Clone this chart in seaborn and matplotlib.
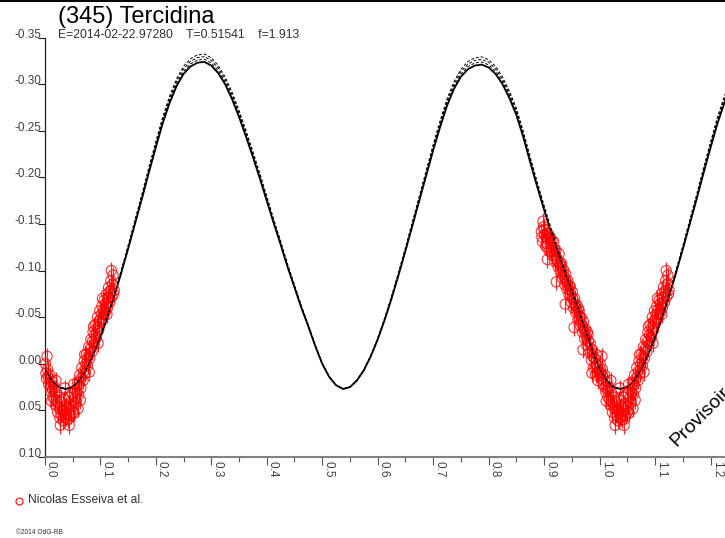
import numpy as np
import pandas as pd
import matplotlib
matplotlib.use("Agg")
import matplotlib.pyplot as plt
import seaborn as sns
from matplotlib.lines import Line2D

# ---------------- data ----------------
title = "(345) Tercidina"
subtitle = "E=2014-02-22.97280    T=0.51541    f=1.913"
observer = "Nicolas Esseiva et al."
credit = "\u00a92014 OdG-RB"
stamp = "Provisoire"

model_phase = [0.0000, 0.0125, 0.0250, 0.0375, 0.0500, 0.0625, 0.0750, 0.0875,
               0.1000, 0.1125, 0.1250, 0.1375, 0.1500, 0.1625, 0.1750, 0.1875,
               0.2000, 0.2125, 0.2250, 0.2375, 0.2500, 0.2625, 0.2750, 0.2875,
               0.3000, 0.3125, 0.3250, 0.3375, 0.3500, 0.3625, 0.3750, 0.3875,
               0.4000, 0.4125, 0.4250, 0.4375, 0.4500, 0.4625, 0.4750, 0.4875,
               0.5000, 0.5125, 0.5250, 0.5375, 0.5500, 0.5625, 0.5750, 0.5875,
               0.6000, 0.6125, 0.6250, 0.6375, 0.6500, 0.6625, 0.6750, 0.6875,
               0.7000, 0.7125, 0.7250, 0.7375, 0.7500, 0.7625, 0.7750, 0.7875,
               0.8000, 0.8125, 0.8250, 0.8375, 0.8500, 0.8625, 0.8750, 0.8875,
               0.9000, 0.9125, 0.9250, 0.9375, 0.9500, 0.9625, 0.9750, 0.9875]
model_mag = [0.006, 0.018, 0.025, 0.027, 0.025, 0.018, 0.006, -0.010,
             -0.028, -0.049, -0.072, -0.097, -0.123, -0.150, -0.177, -0.205,
             -0.232, -0.258, -0.280, -0.298, -0.311, -0.319, -0.323, -0.324,
             -0.320, -0.312, -0.300, -0.284, -0.265, -0.244, -0.222, -0.199,
             -0.175, -0.151, -0.128, -0.104, -0.082, -0.060, -0.040, -0.019,
             0.000, 0.014, 0.023, 0.027, 0.025, 0.018, 0.007, -0.008,
             -0.026, -0.047, -0.070, -0.095, -0.121, -0.148, -0.175, -0.202,
             -0.229, -0.254, -0.277, -0.295, -0.308, -0.316, -0.320, -0.321,
             -0.318, -0.311, -0.300, -0.285, -0.267, -0.243, -0.216, -0.190,
             -0.165, -0.141, -0.118, -0.097, -0.077, -0.056, -0.034, -0.013]
dashed_scale = [1.008, 1.016, 1.024]
model_floor = 0.027

obs_phase = [0.895, 0.897, 0.899, 0.901, 0.903, 0.905, 0.907, 0.909, 0.911, 0.913,
             0.915, 0.917, 0.919, 0.921, 0.923, 0.925, 0.927, 0.929, 0.931, 0.933,
             0.935, 0.937, 0.939, 0.941, 0.943, 0.945, 0.947, 0.949, 0.951, 0.953,
             0.955, 0.957, 0.959, 0.961, 0.963, 0.965, 0.967, 0.969, 0.971, 0.973,
             0.975, 0.977, 0.979, 0.981, 0.983, 0.985, 0.987, 0.989, 0.991, 0.993,
             0.995, 0.997, 0.999,
             0.896, 0.900, 0.904, 0.908, 0.912, 0.916, 0.920, 0.924, 0.928, 0.932,
             0.936, 0.940, 0.944, 0.948, 0.952, 0.956, 0.960, 0.964, 0.968, 0.972,
             0.976, 0.980, 0.984, 0.988, 0.992, 0.996,
             0.898, 0.906, 0.914, 0.922, 0.930, 0.938, 0.946, 0.954, 0.962, 0.970,
             0.978, 0.986, 0.994,
             0.001, 0.003, 0.005, 0.007, 0.009, 0.011, 0.013, 0.015, 0.017, 0.019,
             0.021, 0.023, 0.025, 0.027, 0.029, 0.031, 0.033, 0.035, 0.037, 0.039,
             0.041, 0.043, 0.045, 0.047, 0.049, 0.051, 0.053, 0.055, 0.057, 0.059,
             0.002, 0.006, 0.010, 0.014, 0.018, 0.022, 0.026, 0.030, 0.034, 0.038,
             0.042, 0.046, 0.050, 0.054, 0.058,
             0.004, 0.012, 0.020, 0.028, 0.036, 0.044, 0.052, 0.060,
             0.061, 0.063, 0.065, 0.067, 0.069, 0.071, 0.073, 0.075, 0.077, 0.079,
             0.081, 0.083, 0.085, 0.087, 0.089, 0.091, 0.093, 0.095, 0.097, 0.099,
             0.101, 0.103, 0.105, 0.107, 0.109, 0.111, 0.113, 0.115, 0.117, 0.119,
             0.121, 0.123, 0.125,
             0.062, 0.066, 0.070, 0.074, 0.078, 0.082, 0.086, 0.090, 0.094, 0.098,
             0.102, 0.106, 0.110, 0.114, 0.118, 0.122,
             0.064, 0.072, 0.080, 0.088, 0.096, 0.104, 0.112, 0.120, 0.124]
obs_mag = [-0.142, -0.131, -0.147, -0.138, -0.126, -0.140, -0.133, -0.121, -0.135, -0.127,
           -0.116, -0.131, -0.110, -0.122, -0.113, -0.104, -0.118, -0.099, -0.108, -0.092,
           -0.101, -0.085, -0.096, -0.080, -0.089, -0.074, -0.083, -0.066, -0.077, -0.060,
           -0.070, -0.055, -0.063, -0.047, -0.057, -0.041, -0.050, -0.034, -0.045, -0.027,
           -0.037, -0.020, -0.031, -0.012, -0.022, -0.004, -0.015, 0.004, -0.006, 0.012,
           0.002, 0.018, 0.008,
           -0.136, -0.144, -0.129, -0.139, -0.120, -0.124, -0.117, -0.110, -0.106, -0.100,
           -0.093, -0.088, -0.081, -0.074, -0.069, -0.062, -0.056, -0.049, -0.042, -0.036,
           -0.029, -0.024, -0.013, -0.008, 0.003, 0.010,
           -0.153, -0.112, -0.132, -0.088, -0.107, -0.064, -0.083, -0.039, -0.059, -0.015,
           -0.034, 0.010, -0.010,
           0.000, 0.016, 0.006, 0.022, 0.012, 0.030, 0.019, 0.036, 0.025, 0.044,
           0.030, 0.052, 0.036, 0.058, 0.041, 0.049, 0.061, 0.038, 0.054, 0.045,
           0.060, 0.036, 0.050, 0.056, 0.032, 0.046, 0.053, 0.028, 0.041, 0.020,
           0.010, 0.014, 0.025, 0.028, 0.038, 0.041, 0.047, 0.055, 0.050, 0.058,
           0.048, 0.043, 0.052, 0.037, 0.031,
           -0.008, 0.040, 0.018, 0.066, 0.026, 0.066, 0.022, 0.048,
           0.033, 0.012, 0.026, 0.004, 0.018, -0.003, 0.010, -0.010, 0.002, -0.018,
           -0.006, -0.026, -0.013, -0.034, -0.021, -0.042, -0.028, -0.050, -0.036, -0.057,
           -0.044, -0.062, -0.049, -0.068, -0.055, -0.075, -0.060, -0.082, -0.066, -0.089,
           -0.072, -0.095, -0.079,
           0.022, 0.015, 0.008, 0.000, -0.008, -0.016, -0.024, -0.031, -0.039, -0.046,
           -0.053, -0.058, -0.065, -0.071, -0.078, -0.085,
           0.039, -0.010, 0.009, -0.040, -0.022, -0.070, -0.053, -0.100, -0.075]
obs_err = 0.009

x_ticks = [0.0, 0.1, 0.2, 0.3, 0.4, 0.5, 0.6, 0.7, 0.8, 0.9, 1.0, 1.1, 1.2]
x_minor = [0.05, 0.15, 0.25, 0.35, 0.45, 0.55, 0.65, 0.75, 0.85, 0.95, 1.05, 1.15]
y_ticks = [-0.35, -0.30, -0.25, -0.20, -0.15, -0.10, -0.05, 0.00, 0.05, 0.10]
x_limits = (0.0, 1.226)
y_limits = (0.10, -0.35)

# ---------------- style ----------------
sns.set_style("white")
plt.rcParams['font.family'] = ['Liberation Sans', 'DejaVu Sans']

W, H = 725, 538
fig = plt.figure(figsize=(W / 100, H / 100), dpi=100)
ax_left, ax_right, ax_bottom, ax_top = 44.8, 725, 457, 37.6
ax = fig.add_axes([ax_left / W, 1 - ax_bottom / H, (ax_right - ax_left) / W, (ax_bottom - ax_top) / H])

# model curve folded over two cycles
model = pd.DataFrame({'phase': model_phase, 'mag': model_mag})
model2 = pd.concat([model, model.assign(phase=model.phase + 1),
                    model.iloc[:1].assign(phase=2.0)], ignore_index=True)

sns.lineplot(data=model2, x='phase', y='mag', ax=ax, color='black', lw=1.3,
             estimator=None, sort=False, zorder=2)

# observations folded
obs = pd.DataFrame({'phase': obs_phase, 'mag': obs_mag})
folded = pd.concat([obs, obs.assign(phase=obs.phase + 1)], ignore_index=True)
folded = folded[folded.phase <= x_limits[1]]

ax.errorbar(folded.phase, folded.mag, yerr=obs_err, fmt='none', ecolor='#ff0000',
            elinewidth=0.9, capsize=0, alpha=0.85, zorder=3, clip_on=False)
sns.scatterplot(data=folded, x='phase', y='mag', ax=ax, marker='o', s=55,
                facecolors='none', edgecolor='#ff0000', linewidth=0.8, alpha=0.8,
                zorder=4, clip_on=False, legend=False)

# dashed alternative model curves (on top)
for k in dashed_scale:
    alt = model2.assign(mag=model_floor + (model2.mag - model_floor) * k)
    sns.lineplot(data=alt, x='phase', y='mag', ax=ax, color='black', lw=0.7,
                 estimator=None, sort=False, zorder=5, dashes=False, linestyle=(0, (3, 2)))

ax.set_xlim(*x_limits)
ax.set_ylim(*y_limits)
ax.set_xlabel('')
ax.set_ylabel('')

ax.set_xticks(x_ticks, labels=[f"{v:.1f}" for v in x_ticks], rotation=-90,
              ha='left', va='top', color='#404040', fontsize=8.5)
ax.set_xticks(x_minor, minor=True)
ax.set_yticks(y_ticks, labels=[f"{v:.2f}" for v in y_ticks], va='baseline',
              color='#404040', fontsize=8.5)

ax.tick_params(axis='x', which='major', direction='out', length=6, width=0.8,
               color='#555555', pad=-3, bottom=True)
ax.tick_params(axis='x', which='minor', direction='out', length=3.5, width=0.8,
               color='#555555', bottom=True)
ax.tick_params(axis='y', which='major', direction='out', length=5.3, width=0.8,
               color='#202020', pad=-2.7, left=True)

for s in ['top', 'right']:
    ax.spines[s].set_visible(False)
ax.spines['left'].set_color('#202020')
ax.spines['left'].set_linewidth(0.9)
ax.spines['bottom'].set_color('#808080')
ax.spines['bottom'].set_linewidth(1.5)
ax.grid(False)

# texts
fig.text(58 / W, 1 - 23.5 / H, title, fontsize=17, ha='left', va='baseline', color='black')
fig.text(58 / W, 1 - 37.5 / H, subtitle, fontsize=8.7, ha='left', va='baseline', color='#303030')
fig.text(28 / W, 1 - 503 / H, observer, fontsize=8.7, ha='left', va='baseline', color='#303030')
fig.add_artist(Line2D([19 / W], [1 - 500.5 / H], marker='o', markersize=5, mfc='none',
                      mec='#ff0000', mew=0.8, transform=fig.transFigure))
fig.text(16 / W, 1 - 534 / H, credit, fontsize=4.8, ha='left', va='baseline', color='#303030')
fig.text(676 / W, 1 - 447 / H, stamp, fontsize=14, rotation=45, rotation_mode='anchor',
         ha='left', va='baseline', color='black')

# top border line
fig.add_artist(Line2D([0, 1], [1 - 0.8 / H, 1 - 0.8 / H], color='black', lw=1.4,
                      transform=fig.transFigure))

fig.savefig('out.png', dpi=100)
